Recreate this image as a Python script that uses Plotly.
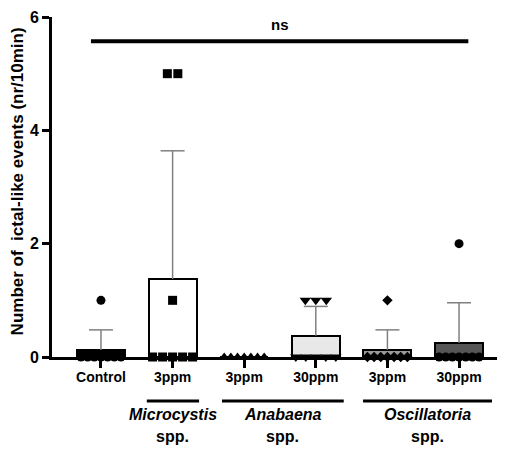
import numpy as np
import plotly.graph_objects as go

# ---------------- data ----------------
categories = ["Control", "Microcystis 3ppm", "Anabaena 3ppm", "Anabaena 30ppm",
              "Oscillatoria 3ppm", "Oscillatoria 30ppm"]
tick_labels = ["Control", "3ppm", "3ppm", "30ppm", "3ppm", "30ppm"]

control = [0, 0, 0, 0, 0, 0, 0, 1]
microcystis_3ppm = [0, 0, 0, 0, 0, 1, 5, 5]
anabaena_3ppm = [0, 0, 0, 0, 0, 0, 0]
anabaena_30ppm = [0, 0, 0, 0, 0, 1, 1, 1]
oscillatoria_3ppm = [0, 0, 0, 0, 0, 0, 0, 1]
oscillatoria_30ppm = [0, 0, 0, 0, 0, 0, 0, 2]
series = [control, microcystis_3ppm, anabaena_3ppm, anabaena_30ppm,
          oscillatoria_3ppm, oscillatoria_30ppm]

group_names = ["Microcystis", "Anabaena", "Oscillatoria"]
group_spans = [(0.64, 1.37), (1.69, 3.39), (3.66, 5.46)]

y_ticks = [0, 2, 4, 6]

# ---------------- styles ----------------
bar_colors = ["#000000", "#ffffff", "#ffffff", "#e8e8e8", "#9a9a9a", "#555555"]
symbols = ["circle", "square", "triangle-up", "triangle-down", "diamond", "circle"]
marker_sizes = [9, 9, 9, 10, 8, 9]
FONT = "Arial, Liberation Sans, sans-serif"

XR = [-0.684, 5.614]
plot_w = 451
plot_h = 340.2
px_per_unit = plot_w / (XR[1] - XR[0])

x = np.arange(len(categories))
means = [float(np.mean(s)) for s in series]
sds = [float(np.std(s, ddof=1)) for s in series]

fig = go.Figure()

fig.add_trace(go.Bar(
    x=x, y=means, width=0.67,
    marker=dict(color=bar_colors, line=dict(color="black", width=2)),
    showlegend=False, hoverinfo="skip",
))

# error bars (upper only)
cap = 12 / px_per_unit
ex, ey = [], []
for xi, m, s in zip(x, means, sds):
    if s <= 0:
        continue
    ex += [xi, xi, None, xi - cap, xi + cap, None]
    ey += [m, m + s, None, m + s, m + s, None]
fig.add_trace(go.Scatter(x=ex, y=ey, mode="lines",
                         line=dict(color="#808080", width=1.5),
                         showlegend=False, hoverinfo="skip"))

# individual points, spread horizontally when values coincide
for xi, vals, sym, ms in zip(x, series, symbols, marker_sizes):
    px_list, py_list = [], []
    for v in sorted(set(vals)):
        k = vals.count(v)
        step = min(10.5, 40 / (k - 1)) if k > 1 else 0
        for i in range(k):
            px_list.append(xi + (i - (k - 1) / 2) * step / px_per_unit)
            py_list.append(v)
    fig.add_trace(go.Scatter(
        x=px_list, y=py_list, mode="markers", cliponaxis=False,
        marker=dict(symbol=sym, size=ms, color="black", line=dict(width=0)),
        showlegend=False, hoverinfo="skip"))

# ns bracket
fig.add_shape(type="line", xref="x", yref="y", x0=-0.14, x1=5.13, y0=5.57, y1=5.57,
              line=dict(color="black", width=4))
fig.add_annotation(text="<b>ns</b>", xref="x", yref="y", x=2.5, y=5.86,
                   showarrow=False, font=dict(family=FONT, size=15, color="black"),
                   xanchor="center", yanchor="middle")

# group lines and labels below the axis
for name, (a, b) in zip(group_names, group_spans):
    fig.add_shape(type="line", xref="x", yref="paper", x0=a, x1=b,
                  y0=-44 / plot_h, y1=-44 / plot_h,
                  line=dict(color="black", width=3))
    c = (a + b) / 2
    fig.add_annotation(text=f"<b><i>{name}</i></b>", xref="x", yref="paper", x=c,
                       y=-57.5 / plot_h, showarrow=False,
                       font=dict(family=FONT, size=16, color="black"),
                       xanchor="center", yanchor="middle")
    fig.add_annotation(text="<b>spp.</b>", xref="x", yref="paper", x=c,
                       y=-79.5 / plot_h, showarrow=False,
                       font=dict(family=FONT, size=16, color="black"),
                       xanchor="center", yanchor="middle")

# y-axis title
fig.add_annotation(text="<b>Number of  ictal-like events (nr/10min)</b>",
                   xref="paper", yref="paper", x=-34.5 / plot_w, y=0.515, textangle=-90,
                   showarrow=False, font=dict(family=FONT, size=17, color="black"),
                   xanchor="center", yanchor="middle")

# page body has an 8px margin -> shift the layout up/left by 8px
fig.update_layout(
    width=505, height=449,
    margin=dict(l=44, r=10, t=8.5, b=100.3),
    plot_bgcolor="white", paper_bgcolor="white",
    font=dict(family=FONT, color="black"),
    bargap=0,
    xaxis=dict(range=XR, tickvals=list(x), ticktext=[f"<b>{t}</b>" for t in tick_labels],
               showline=True, linecolor="black", linewidth=3,
               ticks="outside", ticklen=8, tickwidth=3, tickcolor="black",
               ticklabelstandoff=-3,
               tickfont=dict(family=FONT, size=14, color="black"),
               showgrid=False, zeroline=False, fixedrange=True, automargin=False),
    yaxis=dict(range=[0, 6], tickvals=y_ticks, ticktext=[f"<b>{t}</b>" for t in y_ticks],
               showline=True, linecolor="black", linewidth=3,
               ticks="outside", ticklen=7, tickwidth=3, tickcolor="black",
               tickfont=dict(family=FONT, size=16, color="black"),
               showgrid=False, zeroline=False, fixedrange=True, automargin=False),
)

fig.write_html("out.html")
